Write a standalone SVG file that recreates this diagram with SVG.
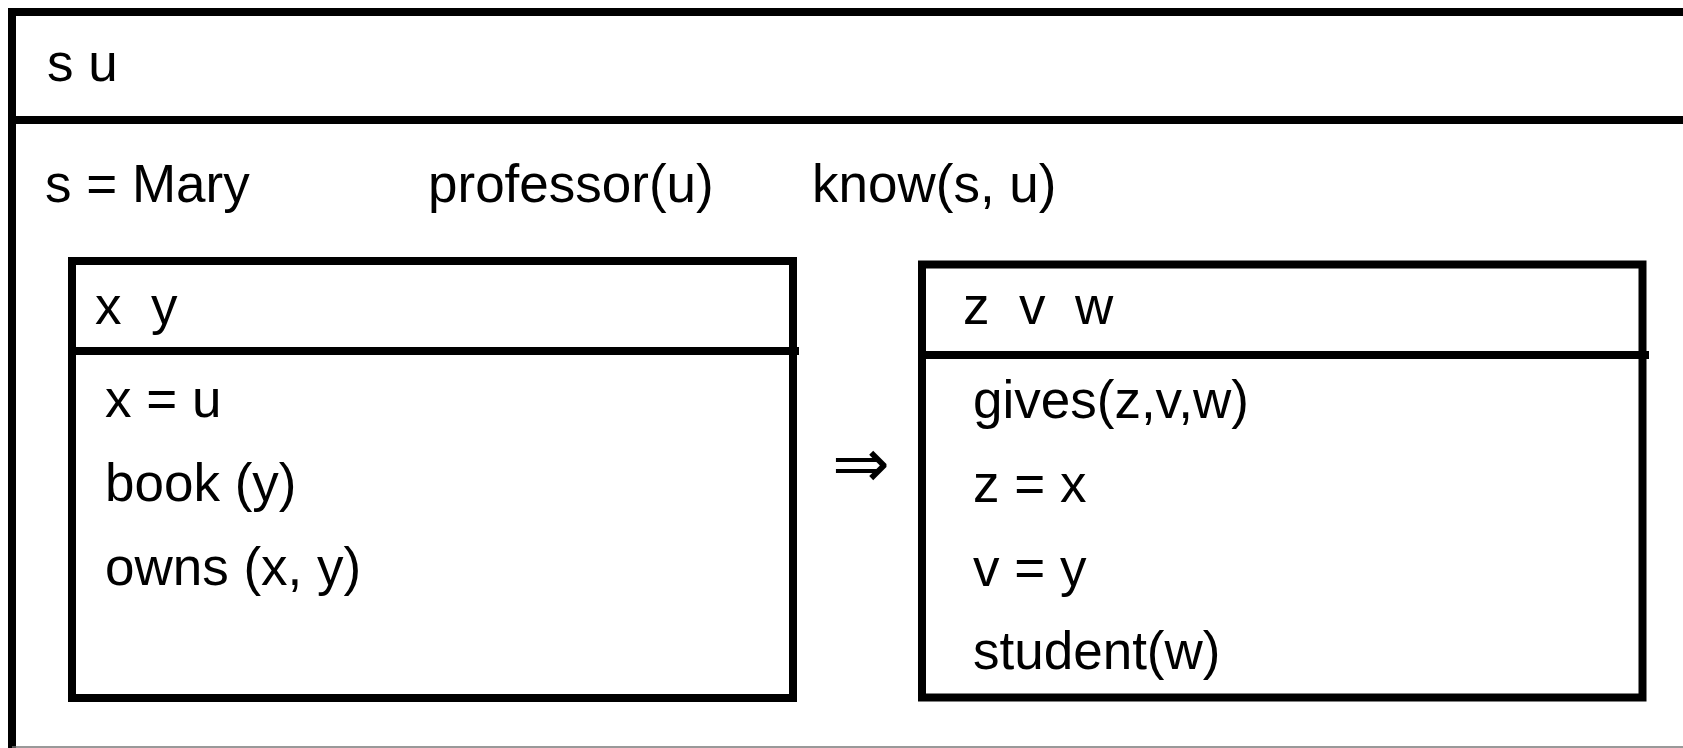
<svg xmlns="http://www.w3.org/2000/svg" width="1683" height="748" viewBox="0 0 1683 748">
<style>
.ln{stroke:#000;stroke-width:8;fill:none}
.t{font-family:"Liberation Sans",Arial,sans-serif;font-size:53px;fill:#000;white-space:pre}
</style>
<rect width="1683" height="748" fill="#fff"/>
<g id="outer">
<line class="ln" x1="8" y1="12" x2="1683" y2="12"/>
<line class="ln" x1="12" y1="8" x2="12" y2="748"/>
<line class="ln" x1="8" y1="120" x2="1683" y2="120"/>
<line x1="12" y1="747" x2="1683" y2="747" stroke="#777" stroke-width="1.5"/>
<text class="t" x="47" y="81">s u</text>
<text class="t" x="45" y="202">s = Mary</text>
<text class="t" x="428" y="202">professor(u)</text>
<text class="t" x="812" y="202">know(s, u)</text>
</g>
<g id="left-box">
<rect class="ln" x="72" y="261" width="721" height="437"/>
<line class="ln" x1="68" y1="351" x2="799" y2="351"/>
<text class="t" x="95" y="324">x  y</text>
<text class="t" x="105" y="417">x = u</text>
<text class="t" x="105" y="501">book (y)</text>
<text class="t" x="105" y="585">owns (x, y)</text>
</g>
<g id="connectors">
<text x="861" y="487" text-anchor="middle" style="font-family:'DejaVu Sans',sans-serif;font-size:69px">⇒</text>
</g>
<g id="right-box">
<rect class="ln" x="922" y="264.5" width="720.5" height="433"/>
<line class="ln" x1="918" y1="355" x2="1649" y2="355"/>
<text class="t" x="963" y="324">z  v  w</text>
<text class="t" x="973" y="418">gives(z,v,w)</text>
<text class="t" x="973" y="502">z = x</text>
<text class="t" x="973" y="586">v = y</text>
<text class="t" x="973" y="669">student(w)</text>
</g>
</svg>
